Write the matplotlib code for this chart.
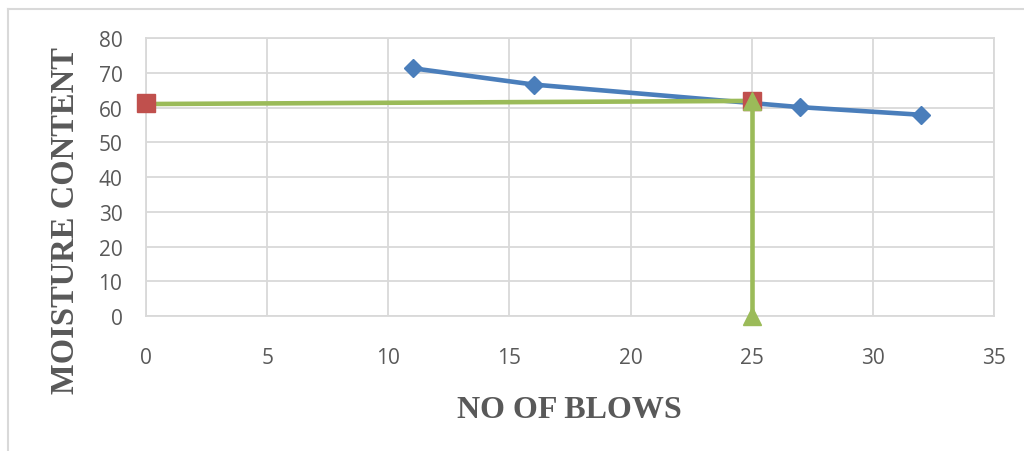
import matplotlib
matplotlib.use('Agg')
import matplotlib.pyplot as plt
from matplotlib.lines import Line2D

# flow curve points (liquid limit test)
blows = [11, 16, 27, 32]
moisture = [71.3, 66.6, 60.1, 57.9]

# red markers and the green reading line at 25 blows
red_x = [0, 25]
red_y = [61.2, 61.8]
green_x = [0, 25, 25]
green_y = [61.0, 61.9, 0]

xticks = [0, 5, 10, 15, 20, 25, 30, 35]
yticks = [0, 10, 20, 30, 40, 50, 60, 70, 80]

blue = '#4A7EBB'
red = '#C0504D'
green = '#9BBB59'
grey = '#595959'
gridc = '#D9D9D9'

fig = plt.figure(figsize=(10.24, 4.52), dpi=100)
ax = fig.add_axes([146/1024, 1 - 317/452, (994 - 146)/1024, (317 - 39)/452])

# outer chart border (left and top only show)
fig.add_artist(Line2D([7.5/1024, 7.5/1024], [0, 1 - 10/452], transform=fig.transFigure, color=gridc, lw=1.5))
fig.add_artist(Line2D([7.5/1024, 1.0], [1 - 10/452, 1 - 10/452], transform=fig.transFigure, color=gridc, lw=1.5))

ax.plot(blows, moisture, color=blue, lw=3.3, marker='D', ms=8.8, zorder=3, clip_on=False)
ax.plot(green_x[:2], green_y[:2], color=green, lw=3.3, zorder=3, clip_on=False)
ax.plot(red_x, red_y, ls='none', marker='s', ms=12.5, color=red, zorder=4, clip_on=False)
ax.plot(green_x[1:], green_y[1:], color=green, lw=3.3, marker='^', ms=13, zorder=5, clip_on=False)

ax.set_xlim(0, 35)
ax.set_ylim(0, 80)
ax.set_xticks(xticks)
ax.set_yticks(yticks)
ax.grid(True, color=gridc, lw=1.3)
ax.set_axisbelow(True)
for s in ax.spines.values():
    s.set_color(gridc)
    s.set_linewidth(1.3)
ax.tick_params(length=0, colors=grey, labelsize=15)
ax.tick_params(axis='y', pad=17)
ax.tick_params(axis='x', pad=22)
for lab in ax.get_xticklabels() + ax.get_yticklabels():
    lab.set_family('Open Sans')
    lab.set_color(grey)

fig.text(66/1024, 1 - 221/452, 'MOISTURE CONTENT', rotation=90, ha='center', va='center',
         family='Liberation Serif', fontweight='bold', fontsize=23.5, color=grey)
fig.text(569/1024, 1 - 411/452, 'NO OF BLOWS', ha='center', va='center',
         family='Liberation Serif', fontweight='bold', fontsize=23, color=grey)

fig.savefig('out.png', dpi=100)
